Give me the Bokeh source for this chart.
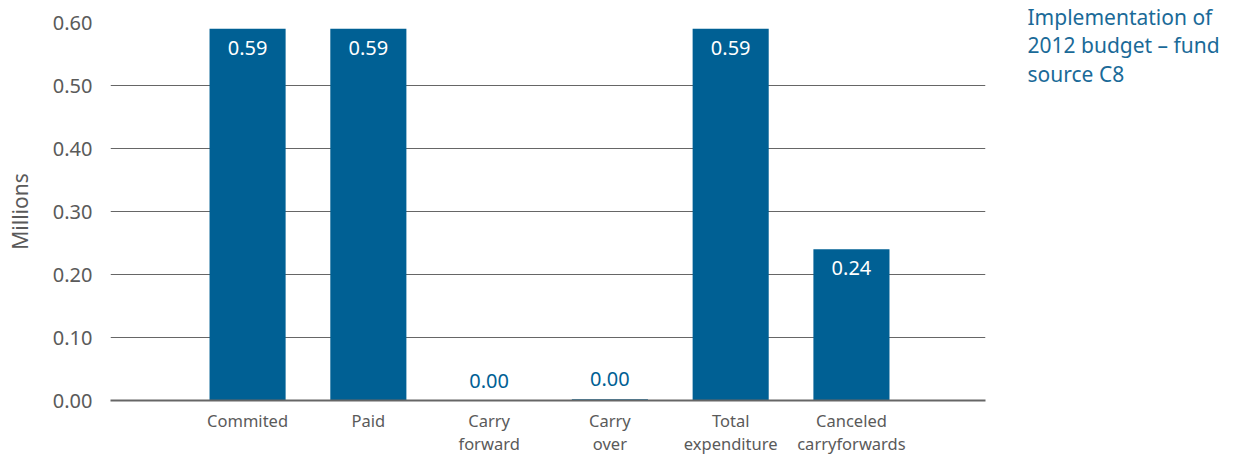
from bokeh.plotting import figure
from bokeh.models import ColumnDataSource, FixedTicker, Range1d, LabelSet, Label, CustomJSTickFormatter
from bokeh.core.properties import value
from bokeh.embed import file_html
from bokeh.resources import INLINE

categories = ["Commited", "Paid", "Carry\nforward", "Carry\nover", "Total\nexpenditure", "Canceled\ncarryforwards"]
values = [0.59, 0.59, 0.0, 0.002, 0.59, 0.24]
value_labels = ["0.59", "0.59", "0.00", "0.00", "0.59", "0.24"]
y_ticks = [0.0, 0.1, 0.2, 0.3, 0.4, 0.5, 0.6]
title_text = "Implementation of\n2012 budget \u2013 fund\nsource C8"

BLUE = "#006094"
GRAY = "#5a5a5a"
FONT = "Noto Sans"
W, H = 1230, 458

xs = list(range(1, len(categories) + 1))
inside = [v > 0.1 for v in values]
src_in = ColumnDataSource(dict(x=[x for x, i in zip(xs, inside) if i],
                               y=[v for v, i in zip(values, inside) if i],
                               t=[t for t, i in zip(value_labels, inside) if i]))
src_out = ColumnDataSource(dict(x=[x for x, i in zip(xs, inside) if not i],
                                y=[v for v, i in zip(values, inside) if not i],
                                t=[t for t, i in zip(value_labels, inside) if not i]))

p = figure(width=W, height=H, output_backend="svg", toolbar_location=None,
           x_range=Range1d(-0.135, 7.11), y_range=Range1d(0, 0.6),
           min_border_left=110, min_border_right=W - 985, min_border_top=22, min_border_bottom=H - 401)
p.outline_line_color = None
p.background_fill_color = "white"

p.vbar(x=xs, top=values, width=0.63, color=BLUE, line_color=None)

p.add_layout(LabelSet(x="x", y="y", text="t", source=src_in, text_color="white",
                      text_font=value(FONT), text_font_size="20px", text_align="center",
                      text_baseline="top", y_offset=-12))
p.add_layout(LabelSet(x="x", y="y", text="t", source=src_out, text_color=BLUE,
                      text_font=value(FONT), text_font_size="20px", text_align="center",
                      text_baseline="bottom", y_offset=13))

p.xgrid.visible = False
p.ygrid.ticker = FixedTicker(ticks=y_ticks)
p.ygrid.grid_line_color = "#666666"
p.ygrid.grid_line_width = 1

p.yaxis.ticker = FixedTicker(ticks=y_ticks)
p.yaxis.formatter = CustomJSTickFormatter(code="return tick.toFixed(2);")
p.yaxis.axis_line_color = None
p.yaxis.major_tick_line_color = None
p.yaxis.minor_tick_line_color = None
p.yaxis.major_label_text_font = FONT
p.yaxis.major_label_text_font_size = "20px"
p.yaxis.major_label_text_color = GRAY
p.yaxis.major_label_standoff = 12
p.yaxis.axis_label = "Millions"
p.yaxis.axis_label_text_font = FONT
p.yaxis.axis_label_text_font_size = "21px"
p.yaxis.axis_label_text_font_style = "normal"
p.yaxis.axis_label_text_color = GRAY
p.yaxis.axis_label_standoff = 16

p.xaxis.ticker = FixedTicker(ticks=xs)
p.xaxis.major_label_overrides = {x: c for x, c in zip(xs, categories)}
p.xaxis.axis_line_color = "#666666"
p.xaxis.axis_line_width = 2
p.xaxis.major_tick_line_color = None
p.xaxis.minor_tick_line_color = None
p.xaxis.major_label_text_font = FONT
p.xaxis.major_label_text_font_size = "16.5px"
p.xaxis.major_label_text_color = GRAY
p.xaxis.major_label_text_line_height = 1.04
p.xaxis.major_label_standoff = 2

title = Label(x=1027, y=45, x_units="canvas", y_units="canvas", text=title_text,
              text_font=FONT, text_font_size="21px", text_color="#1a6a98",
              text_align="left", text_baseline="middle", text_line_height=1.03)
p.add_layout(title, "right")

open("out.html", "w").write(file_html(p, INLINE))
